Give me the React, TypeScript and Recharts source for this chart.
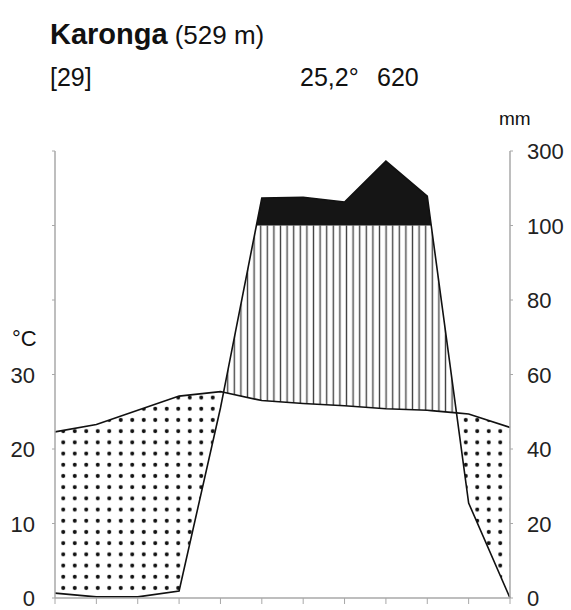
import React from 'react';
import { Area, ComposedChart, Line, XAxis, YAxis } from 'recharts';

// Karonga climate diagram, year starts in July (southern hemisphere)
const months = ['Jul', 'Aug', 'Sep', 'Oct', 'Nov', 'Dec', 'Jan', 'Feb', 'Mar', 'Apr', 'May', 'Jun'];
const temperature = [22.3, 23.3, 25.2, 27.1, 27.7, 26.5, 26.1, 25.8, 25.4, 25.2, 24.7, 22.9];
const precipitation = [1.3, 0.3, 0.3, 1.9, 51, 174, 176, 163, 273, 179, 25.5, 0];

const tempTicks = [0, 10, 20, 30, 40, 50, 60];
const tempLabels = ['0', '10', '20', '30', '', '', ''];
const precipLabels = ['0', '20', '40', '60', '80', '100', '300'];

const FONT = '"Liberation Sans", Arial, Helvetica, sans-serif';
const AXIS = '#a8a8a8';

// 10 °C = 20 mm up to 100 mm, above that 10 °C = 200 mm
const toScale = (p: number) => (p <= 100 ? p / 2 : 50 + (p - 100) / 20);

type Row = { x: number; t: number; v: number };

function buildRows(): Row[] {
  const rows: Row[] = [];
  for (let i = 0; i < months.length; i++) {
    const t = temperature[i];
    const v = toScale(precipitation[i]);
    rows.push({ x: i, t, v });
    if (i === months.length - 1) break;
    const t2 = temperature[i + 1];
    const v2 = toScale(precipitation[i + 1]);
    const cuts: number[] = [];
    const d1 = v - t;
    const d2 = v2 - t2;
    if (d1 * d2 < 0) cuts.push(d1 / (d1 - d2));
    const e1 = v - 50;
    const e2 = v2 - 50;
    if (e1 * e2 < 0) cuts.push(e1 / (e1 - e2));
    cuts.sort((a, b) => a - b);
    cuts.forEach((f) => rows.push({ x: i + f, t: t + (t2 - t) * f, v: v + (v2 - v) * f }));
  }
  const eps = 1e-6;
  return rows.map((r) => ({
    ...r,
    dry: r.v <= r.t + eps ? [r.v, r.t] : null,
    humid: r.v >= r.t - eps ? [r.t, Math.min(r.v, 50)] : null,
    wet: r.v >= 50 - eps ? [50, r.v] : null,
  })) as any;
}

const data = buildRows();

const LeftTick = (props: any) => {
  const { x, y, payload } = props;
  const label = tempLabels[tempTicks.indexOf(payload.value)];
  return (
    <text x={x} y={y + 8} textAnchor="end" fontFamily={FONT} fontSize={22} fill="#222">
      {label}
    </text>
  );
};

const RightTick = (props: any) => {
  const { x, y, payload } = props;
  const label = precipLabels[tempTicks.indexOf(payload.value)];
  return (
    <text x={x} y={y + 8} textAnchor="start" fontFamily={FONT} fontSize={22} fill="#222">
      {label}
    </text>
  );
};

export default function App() {
  return (
    <div style={{ position: 'absolute', left: 0, top: 0, width: 571, height: 610, background: '#fff' }}>
      <svg width="0" height="0" style={{ position: 'absolute' }}>
        <defs>
          <pattern id="dots" patternUnits="userSpaceOnUse" width="11.5" height="11.2">
            <circle cx="5.75" cy="5.6" r="2" fill="#111" />
          </pattern>
          <pattern id="hatch" patternUnits="userSpaceOnUse" width="6.6" height="10">
            <line x1="3.3" y1="0" x2="3.3" y2="10" stroke="#444" strokeWidth="1.4" />
          </pattern>
        </defs>
      </svg>

      <ComposedChart width={571} height={610} data={data} margin={{ top: 151, right: 16, bottom: 0, left: 10 }}>
        <XAxis
          type="number"
          dataKey="x"
          domain={[0, 11]}
          ticks={months.map((_, i) => i)}
          interval={0}
          tickFormatter={() => ''}
          tickSize={6}
          height={12}
          stroke={AXIS}
          axisLine={{ stroke: AXIS, strokeWidth: 1.5 }}
        />
        <YAxis
          yAxisId="t"
          domain={[0, 60]}
          ticks={tempTicks}
          interval={0}
          width={45}
          tickSize={3}
          tickMargin={17}
          stroke={AXIS}
          axisLine={{ stroke: AXIS, strokeWidth: 1.5 }}
          tick={<LeftTick />}
        />
        <YAxis
          yAxisId="p"
          orientation="right"
          domain={[0, 60]}
          ticks={tempTicks}
          interval={0}
          width={45}
          tickSize={3}
          tickMargin={14}
          stroke={AXIS}
          axisLine={{ stroke: AXIS, strokeWidth: 1.5 }}
          tick={<RightTick />}
        />
        <Area yAxisId="t" type="linear" dataKey="dry" fill="url(#dots)" fillOpacity={1} stroke="none" isAnimationActive={false} />
        <Area yAxisId="t" type="linear" dataKey="humid" fill="url(#hatch)" fillOpacity={1} stroke="none" isAnimationActive={false} />
        <Area yAxisId="p" type="linear" dataKey="wet" fill="#151515" fillOpacity={1} stroke="none" isAnimationActive={false} />
        <Line yAxisId="t" type="linear" dataKey="t" stroke="#111" strokeWidth={1.6} dot={false} isAnimationActive={false} />
        <Line yAxisId="p" type="linear" dataKey="v" stroke="#111" strokeWidth={1.6} dot={false} isAnimationActive={false} />
      </ComposedChart>

      <svg width={571} height={610} style={{ position: 'absolute', left: 0, top: 0, pointerEvents: 'none' }}>
        <text x={50} y={44} fontFamily={FONT} fill="#111">
          <tspan fontSize={29} fontWeight="bold">Karonga</tspan>
          <tspan fontSize={26} dx={7}>(529 m)</tspan>
        </text>
        <text x={50} y={86} fontFamily={FONT} fontSize={25} fill="#111">[29]</text>
        <text x={300} y={86} fontFamily={FONT} fontSize={25} fill="#111">25,2°</text>
        <text x={377} y={86} fontFamily={FONT} fontSize={25} fill="#111">620</text>
        <text x={499} y={125} fontFamily={FONT} fontSize={19} fill="#111">mm</text>
        <text x={12} y={346} fontFamily={FONT} fontSize={22} fill="#111">°C</text>
      </svg>
    </div>
  );
}
